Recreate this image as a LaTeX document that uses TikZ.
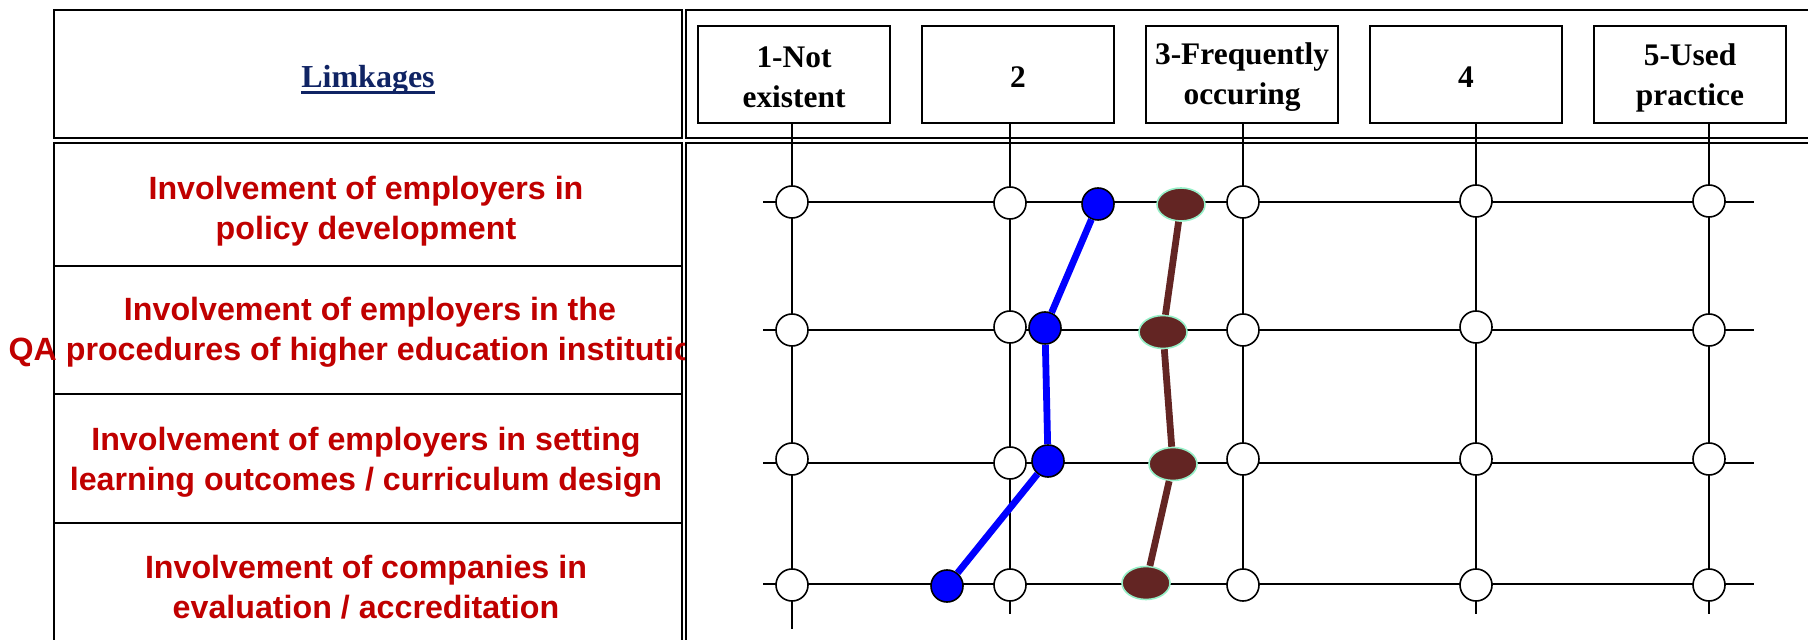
\documentclass[tikz,border=0pt]{standalone}
\usepackage{fontspec}
\setmainfont{Liberation Serif}
\newfontfamily\arialfont{Liberation Sans}
\usetikzlibrary{shapes.geometric}
\definecolor{limnavy}{RGB}{16,36,100}
\definecolor{limred}{RGB}{192,0,0}
\definecolor{brownpt}{RGB}{99,37,35}
\definecolor{mintedge}{RGB}{150,240,200}
\begin{document}
\begin{tikzpicture}[x=0.5pt,y=-0.5pt,
  panel/.style={draw=black,line width=1pt},
  hdr/.style={draw=black,line width=1pt,minimum width=96pt,minimum height=48.5pt,inner sep=0pt},
  hdrtext/.style={align=center,inner sep=0pt,
    font={\bfseries\fontsize{15.7pt}{20pt}\selectfont}},
  redtext/.style={align=center,text=limred,inner sep=0pt,
    font={\arialfont\bfseries\fontsize{16.1pt}{20pt}\selectfont}},
  limtext/.style={inner sep=0pt,text=limnavy,font={\bfseries\fontsize{16pt}{20pt}\selectfont}},
  vline/.style={draw=black,line width=0.8pt},
  hline/.style={draw=black,line width=1pt},
  wdot/.style={circle,draw=black,fill=white,line width=0.8pt,minimum size=16pt,inner sep=0pt},
  bdot/.style={circle,draw=black,fill=blue,line width=0.8pt,minimum size=16pt,inner sep=0pt},
  mdot/.style={ellipse,draw=mintedge,fill=brownpt,line width=0.8pt,minimum width=24pt,minimum height=16.5pt,inner sep=0pt},
  blueline/.style={draw=blue,line width=3.4pt},
  brownline/.style={draw=brownpt,line width=3.4pt}
]
\useasboundingbox (0,0) rectangle (1808,640);
\begin{scope}
\clip (0,0) rectangle (1808,640);
% panels
\draw[panel] (54,10) rectangle (682,138);
\draw[panel] (686,10) rectangle (1830,138);
\draw[panel] (54,143) rectangle (682,266);
\draw[panel] (54,266) rectangle (682,394);
\draw[panel] (54,394) rectangle (682,523);
\draw[panel] (54,523) rectangle (682,660);
\draw[panel] (686,143) rectangle (1830,660);

% title
\node[limtext,anchor=base] (lim) at (368,88) {Limkages};
\draw[limnavy,line width=1.8pt] ([yshift=-2.2pt]lim.base west) -- ([yshift=-2.2pt]lim.base east);

% row labels
\begin{scope}
\clip (0,0) rectangle (684,640);
\node[redtext] (r1) at (366,211) {Involvement of employers in\\policy development};
\node[redtext] (r2) at (370,332.5) {Involvement of employers in the\\QA procedures of higher education institutions};
\node[redtext] (r3) at (366,462) {Involvement of employers in setting\\learning outcomes / curriculum design};
\node[redtext] (r4) at (366,587) {Involvement of companies in\\evaluation / accreditation};
\end{scope}

% header boxes
\node[hdr] (h1) at (794,74.5) {};
\node[hdr] (h2) at (1018,74.5) {};
\node[hdr] (h3) at (1242,74.5) {};
\node[hdr] (h4) at (1466,74.5) {};
\node[hdr] (h5) at (1690,74.5) {};
\node[hdrtext] (h1t) at (794,77.5) {1-Not\\existent};
\node[hdrtext] (h2t) at (1018,77.5) {2};
\node[hdrtext] (h3t) at (1242,77.5) {3-Frequently\\occuring};
\node[hdrtext] (h4t) at (1466,77.5) {4};
\node[hdrtext] (h5t) at (1690,77.5) {5-Used\\practice};

% grid coordinates
\coordinate (t1) at (792,123);  \coordinate (e1) at (792,629);
\coordinate (t2) at (1010,123); \coordinate (e2) at (1010,614);
\coordinate (t3) at (1243,123); \coordinate (e3) at (1243,600);
\coordinate (t4) at (1476,123); \coordinate (e4) at (1476,614);
\coordinate (t5) at (1709,123); \coordinate (e5) at (1709,614);
\foreach \i in {1,...,5}{\draw[vline] (t\i) -- (e\i);}

\coordinate (la) at (763,202); \coordinate (ra) at (1754,202);
\coordinate (lb) at (763,330); \coordinate (rb) at (1754,330);
\coordinate (lc) at (763,463); \coordinate (rc) at (1754,463);
\coordinate (ld) at (763,584); \coordinate (rd) at (1754,584);
\foreach \r in {a,b,c,d}{\draw[hline] (l\r) -- (r\r);}

% white circles
\node[wdot] (w11) at (792,202) {};
\node[wdot] (w12) at (1010,203) {};
\node[wdot] (w13) at (1243,202) {};
\node[wdot] (w14) at (1476,201) {};
\node[wdot] (w15) at (1709,201) {};
\node[wdot] (w21) at (792,330) {};
\node[wdot] (w22) at (1010,327) {};
\node[wdot] (w23) at (1243,330) {};
\node[wdot] (w24) at (1476,327) {};
\node[wdot] (w25) at (1709,330) {};
\node[wdot] (w31) at (792,459) {};
\node[wdot] (w32) at (1010,463) {};
\node[wdot] (w33) at (1243,459) {};
\node[wdot] (w34) at (1476,459) {};
\node[wdot] (w35) at (1709,459) {};
\node[wdot] (w41) at (792,585) {};
\node[wdot] (w42) at (1010,585) {};
\node[wdot] (w43) at (1243,585) {};
\node[wdot] (w44) at (1476,585) {};
\node[wdot] (w45) at (1709,585) {};

% data points
\node[bdot] (b1) at (1098,204) {};
\node[bdot] (b2) at (1045,328) {};
\node[bdot] (b3) at (1048,461) {};
\node[bdot] (b4) at (947,586) {};
\node[mdot] (m1) at (1181,204.5) {};
\node[mdot] (m2) at (1163,332) {};
\node[mdot] (m3) at (1173,464) {};
\node[mdot] (m4) at (1146,583) {};

\draw[blueline] (b1) -- (b2) -- (b3) -- (b4);
\draw[brownline] (m1) -- (m2) -- (m3) -- (m4);
\end{scope}
\end{tikzpicture}
\end{document}
